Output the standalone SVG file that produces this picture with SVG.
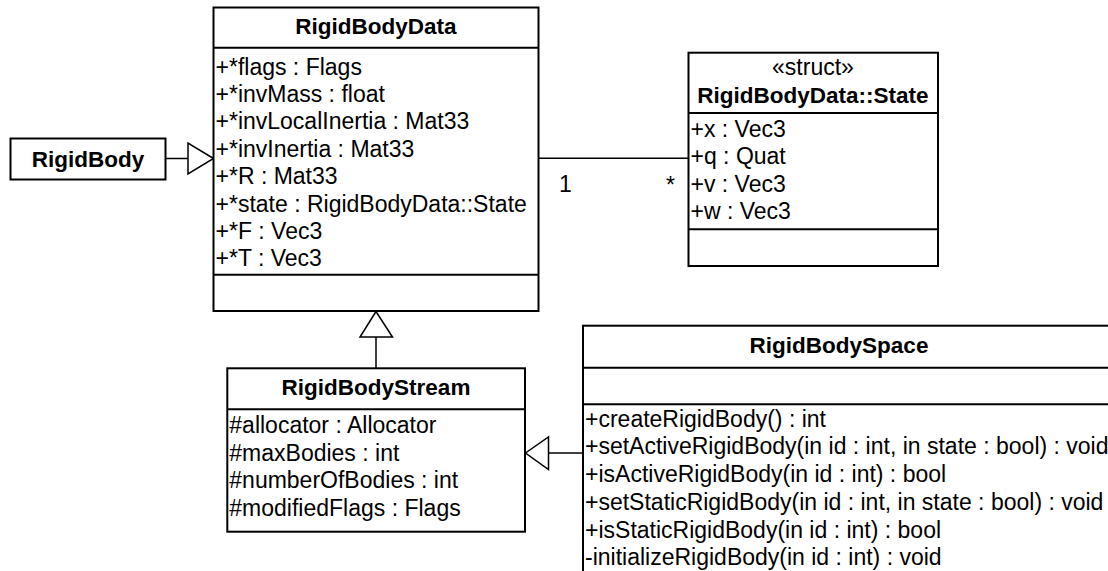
<svg xmlns="http://www.w3.org/2000/svg" width="1108" height="571" viewBox="0 0 1108 571">
  <style>
    .box { fill: #ffffff; stroke: #000000; stroke-width: 2; }
    .sep { stroke: #000000; stroke-width: 2; }
    .line { stroke: #000000; stroke-width: 1.5; fill: none; }
    .tri { fill: #ffffff; stroke: #000000; stroke-width: 1.5; stroke-linejoin: miter; }
    text { font-family: "Liberation Sans", Arial, sans-serif; font-size: 23px; fill: #000000; }
    .title { font-weight: bold; font-size: 22.5px; text-anchor: middle; }
    .stereo { text-anchor: middle; }
  </style>
  <rect width="1108" height="571" fill="#ffffff"/>

  <!-- connectors: generalizations and the association -->
  <g id="connectors">
    <!-- RigidBody to RigidBodyData -->
    <line class="line" x1="166" y1="158.5" x2="188" y2="158.5"/>
    <polygon class="tri" points="213.5,158.5 188,143 188,174"/>
    <!-- RigidBodyStream to RigidBodyData -->
    <line class="line" x1="376" y1="337" x2="376" y2="368"/>
    <polygon class="tri" points="376,311.5 360,337 392.5,337"/>
    <!-- RigidBodySpace to RigidBodyStream -->
    <line class="line" x1="548" y1="453" x2="583" y2="453"/>
    <polygon class="tri" points="525.5,453 548.5,437 548.5,469.5"/>
    <!-- association RigidBodyData (1) with RigidBodyData::State (many) -->
    <line class="line" x1="538" y1="158.3" x2="688" y2="158.3"/>
    <text x="559" y="192">1</text>
    <text x="666" y="193">*</text>
  </g>

  <g id="RigidBody">
    <rect class="box" x="10.5" y="138.5" width="155" height="41"/>
    <text class="title" x="88" y="166.5">RigidBody</text>
  </g>

  <g id="RigidBodyData">
    <rect class="box" x="213.5" y="7.5" width="325" height="303.5"/>
    <line class="sep" x1="213.5" y1="47.7" x2="538.5" y2="47.7"/>
    <line class="sep" x1="213.5" y1="274.7" x2="538.5" y2="274.7"/>
    <text class="title" x="376" y="34.3">RigidBodyData</text>
    <text x="215.5" y="74.5">+*flags : Flags</text>
    <text x="215.5" y="101.9">+*invMass : float</text>
    <text x="215.5" y="129.3">+*invLocalInertia : Mat33</text>
    <text x="215.5" y="156.7">+*invInertia : Mat33</text>
    <text x="215.5" y="184.1">+*R : Mat33</text>
    <text x="215.5" y="211.5">+*state : RigidBodyData::State</text>
    <text x="215.5" y="238.9">+*F : Vec3</text>
    <text x="215.5" y="266.3">+*T : Vec3</text>
  </g>

  <g id="RigidBodyDataState">
    <rect class="box" x="688.5" y="52.7" width="249.5" height="213.3"/>
    <line class="sep" x1="688.5" y1="113" x2="938" y2="113"/>
    <line class="sep" x1="688.5" y1="229.3" x2="938" y2="229.3"/>
    <text class="stereo" x="813" y="75">«struct»</text>
    <text class="title" x="813" y="103.3">RigidBodyData::State</text>
    <text x="690.5" y="137">+x : Vec3</text>
    <text x="690.5" y="164.4">+q : Quat</text>
    <text x="690.5" y="191.8">+v : Vec3</text>
    <text x="690.5" y="219.2">+w : Vec3</text>
  </g>

  <g id="RigidBodyStream">
    <rect class="box" x="227.3" y="368.3" width="297.7" height="163.4"/>
    <line class="sep" x1="227.3" y1="409.3" x2="525" y2="409.3"/>
    <text class="title" x="376" y="395">RigidBodyStream</text>
    <text x="229.3" y="433">#allocator : Allocator</text>
    <text x="229.3" y="460.5">#maxBodies : int</text>
    <text x="229.3" y="488">#numberOfBodies : int</text>
    <text x="229.3" y="515.5">#modifiedFlags : Flags</text>
  </g>

  <g id="RigidBodySpace">
    <rect class="box" x="583" y="325.7" width="540" height="260"/>
    <line class="sep" x1="583" y1="367.7" x2="1123" y2="367.7"/>
    <line class="sep" x1="583" y1="404.3" x2="1123" y2="404.3"/>
    <text class="title" x="839" y="353.3">RigidBodySpace</text>
    <text x="585" y="426.7">+createRigidBody() : int</text>
    <text x="585" y="454.4">+setActiveRigidBody(in id : int, in state : bool) : void</text>
    <text x="585" y="482.1">+isActiveRigidBody(in id : int) : bool</text>
    <text x="585" y="509.8">+setStaticRigidBody(in id : int, in state : bool) : void</text>
    <text x="585" y="537.5">+isStaticRigidBody(in id : int) : bool</text>
    <text x="585" y="565.2">-initializeRigidBody(in id : int) : void</text>
  </g>
</svg>
